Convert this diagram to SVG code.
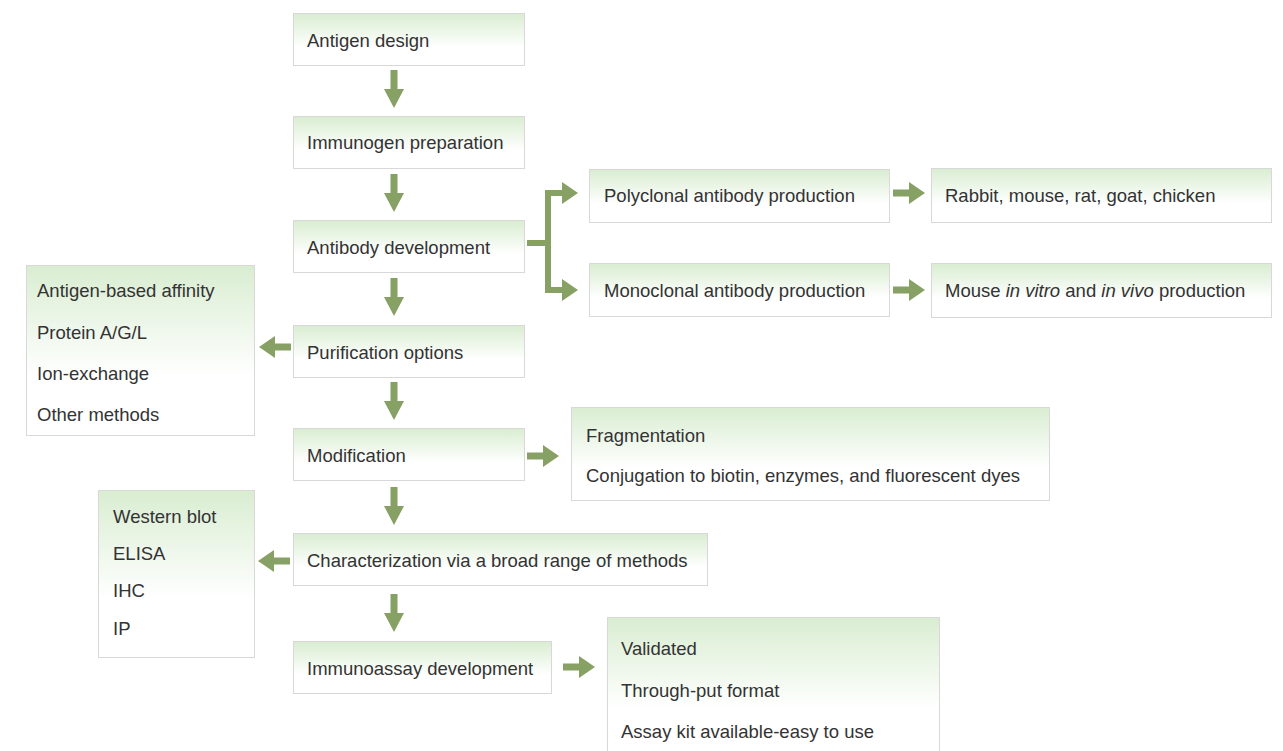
<svg xmlns="http://www.w3.org/2000/svg" width="1283" height="751" viewBox="0 0 1283 751">
<defs>
<linearGradient id="g" x1="0" y1="0" x2="0" y2="1">
<stop offset="0" stop-color="#d9edd1"/>
<stop offset="0.65" stop-color="#ffffff"/>
</linearGradient>
<path id="down" d="M-3.5,0 H3.5 V19 H10 L0,38 L-10,19 H-3.5 Z"/>
<path id="right" d="M0,-3.5 H16 V-11 L32,0 L16,11 V3.5 H0 Z"/>
<path id="left" d="M0,-3.5 H-16 V-11 L-32,0 L-16,11 V3.5 H0 Z"/>
</defs>
<style>
.box{fill:url(#g);stroke:#d8d8d8;stroke-width:1}
text{font-family:"Liberation Sans",Arial,sans-serif;font-size:18.5px;fill:#333333}
.arr{fill:#87a064}
.br{fill:none;stroke:#87a064;stroke-width:6}
</style>
<rect width="1283" height="751" fill="#ffffff"/>
<g id="n-antigen-design"><rect class="box" x="293.5" y="13.5" width="231" height="52"/><text x="307" y="47">Antigen design</text></g>
<g id="n-immunogen"><rect class="box" x="293.5" y="116.5" width="231" height="52"/><text x="307" y="149">Immunogen preparation</text></g>
<g id="n-antibody-dev"><rect class="box" x="293.5" y="220.5" width="231" height="52"/><text x="307" y="254">Antibody development</text></g>
<g id="n-purification"><rect class="box" x="293.5" y="325.5" width="231" height="52"/><text x="307" y="359">Purification options</text></g>
<g id="n-modification"><rect class="box" x="293.5" y="428.5" width="231" height="52"/><text x="307" y="462">Modification</text></g>
<g id="n-characterization"><rect class="box" x="293.5" y="533.5" width="414" height="52"/><text x="307" y="567">Characterization via a broad range of methods</text></g>
<g id="n-immunoassay"><rect class="box" x="293.5" y="641.5" width="258" height="52"/><text x="307" y="675">Immunoassay development</text></g>
<g id="n-polyclonal"><rect class="box" x="589.5" y="169.5" width="300" height="53"/><text x="604" y="202">Polyclonal antibody production</text></g>
<g id="n-monoclonal"><rect class="box" x="589.5" y="263.5" width="300" height="53"/><text x="604" y="297">Monoclonal antibody production</text></g>
<g id="n-species"><rect class="box" x="931.5" y="168.5" width="340" height="54"/><text x="945" y="202">Rabbit, mouse, rat, goat, chicken</text></g>
<g id="n-mouse"><rect class="box" x="931.5" y="263.5" width="340" height="54"/><text x="945" y="297">Mouse <tspan font-style="italic">in vitro</tspan> and <tspan font-style="italic">in vivo</tspan> production</text></g>
<g id="n-purif-methods"><rect class="box" x="26.5" y="265.5" width="228" height="170"/><text x="37" y="297">Antigen-based affinity</text><text x="37" y="339">Protein A/G/L</text><text x="37" y="380">Ion-exchange</text><text x="37" y="421">Other methods</text></g>
<g id="n-mod-options"><rect class="box" x="571.5" y="407.5" width="478" height="93"/><text x="586" y="442">Fragmentation</text><text x="586" y="482">Conjugation to biotin, enzymes, and fluorescent dyes</text></g>
<g id="n-char-methods"><rect class="box" x="98.5" y="490.5" width="156" height="167"/><text x="113" y="523">Western blot</text><text x="113" y="560">ELISA</text><text x="113" y="597">IHC</text><text x="113" y="635">IP</text></g>
<g id="n-assay-options"><rect class="box" x="607.5" y="617.5" width="332" height="140"/><text x="621" y="655">Validated</text><text x="621" y="697">Through-put format</text><text x="621" y="738">Assay kit available-easy to use</text></g>
<g id="connectors">
<use href="#down" class="arr" x="394" y="70"/>
<use href="#down" class="arr" x="394" y="174"/>
<use href="#down" class="arr" x="394" y="278"/>
<use href="#down" class="arr" x="394" y="382"/>
<use href="#down" class="arr" x="394" y="487"/>
<use href="#down" class="arr" x="394" y="594"/>
<path class="br" d="M527,243 H548 M548,190 V293 M545,193 H564 M545,290 H564"/>
<polygon class="arr" points="562,182 578,193 562,204"/>
<polygon class="arr" points="562,279 578,290 562,301"/>
<use href="#right" class="arr" x="893" y="193"/>
<use href="#right" class="arr" x="893" y="290"/>
<use href="#right" class="arr" x="527" y="456"/>
<use href="#right" class="arr" x="563" y="667"/>
<use href="#left" class="arr" x="291" y="347"/>
<use href="#left" class="arr" x="290" y="561"/>
</g>
</svg>
